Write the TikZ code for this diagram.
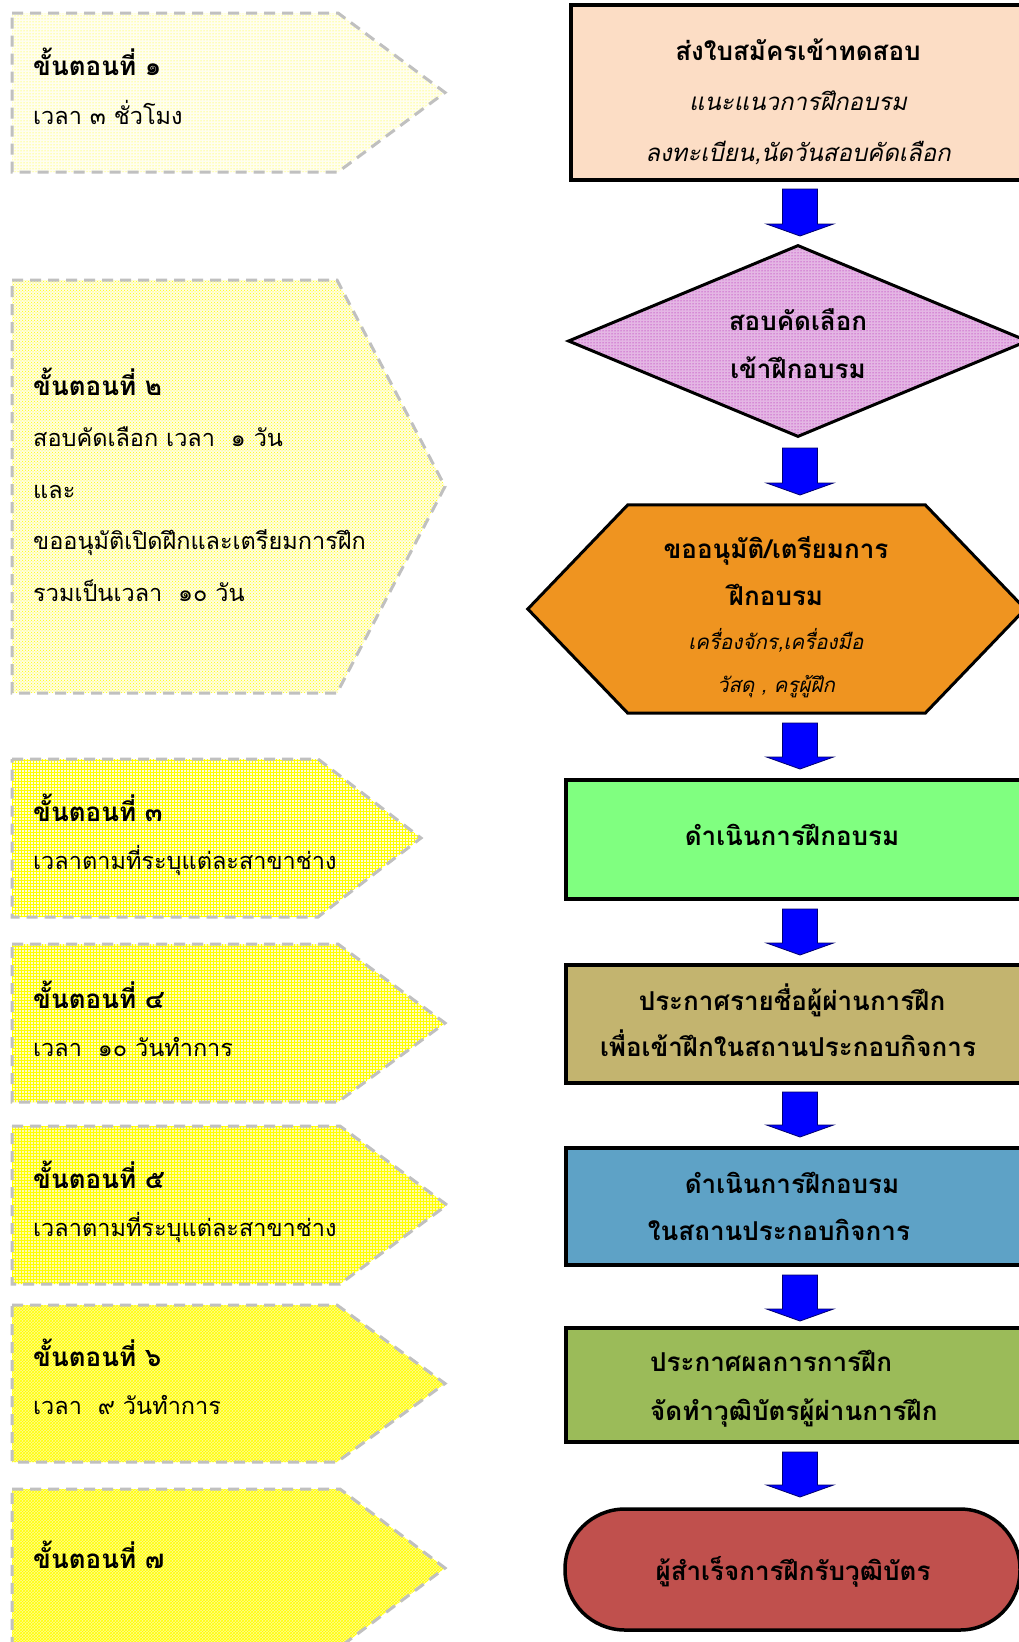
\documentclass[tikz,border=0pt]{standalone}
\usepackage{fontspec}
\newfontfamily\thai[Script=Thai]{Loma}
\usetikzlibrary{shapes.geometric,patterns,calc}
\definecolor{peach}{RGB}{252,221,197}
\definecolor{orng}{RGB}{239,148,32}
\definecolor{lgreen}{RGB}{128,255,128}
\definecolor{khaki}{RGB}{195,180,111}
\definecolor{sblue}{RGB}{94,162,198}
\definecolor{olive}{RGB}{155,187,89}
\definecolor{brick}{RGB}{192,80,77}
\definecolor{dashgray}{RGB}{192,192,192}
\definecolor{arrblue}{RGB}{0,0,255}
\definecolor{lilac}{RGB}{228,182,228}
\tikzset{
  pentline/.style={draw=dashgray, line width=3, dash pattern=on 11pt off 7pt},
  patA/.style={preaction={fill=yellow!6}, pattern=dots, pattern color=yellow},
  patB/.style={preaction={fill=yellow!12}, pattern=crosshatch dots, pattern color=yellow},
  patC/.style={preaction={fill=yellow!14}, pattern=grid, pattern color=yellow},
  patC2/.style={preaction={fill=yellow!22}, pattern=grid, pattern color=yellow},
  patD/.style={preaction={fill=yellow!32}, pattern=grid, pattern color=yellow},
  patE/.style={preaction={fill=yellow!42}, pattern=crosshatch, pattern color=yellow},
  boxshape/.style={rectangle, draw=black, line width=3.5, inner sep=0, minimum width=460, minimum height=#1},
  ltitle/.style={anchor=base west, inner sep=0, font=\thai\bfseries\fontsize{26}{30}\selectfont},
  ltext/.style={anchor=base west, inner sep=0, font=\thai\fontsize{23.5}{28}\selectfont},
  rbold/.style={anchor=base, inner sep=0, font=\thai\bfseries\fontsize{26}{30}\selectfont},
  rital/.style={anchor=base, inner sep=0, font=\thai\itshape\fontsize{24}{28}\selectfont},
  rsital/.style={anchor=base, inner sep=0, font=\thai\itshape\fontsize{20.5}{24}\selectfont},
  blockarrow/.style={draw={rgb,255:red,0;green,0;blue,110}, line width=0.8, fill=arrblue,
    to path={let \p1=(\tikztostart), \p2=(\tikztotarget) in
      (\x1-17.5pt,\y1) -- (\x1+17.5pt,\y1) -- (\x1+17.5pt,\y2+12pt) -- (\x1+33.5pt,\y2+12pt)
      -- (\x1,\y2) -- (\x1-33.5pt,\y2+12pt) -- (\x1-17.5pt,\y2+12pt) -- cycle}},
}
\newcommand\steppent[5]{%
  \path[#5] (12,#1) -- (#3,#1) -- (#4,{(#1+#2)/2}) -- (#3,#2) -- (12,#2) -- cycle;
  \path[pentline] (12,#1) -- (#3,#1) -- (#4,{(#1+#2)/2}) -- (#3,#2) -- (12,#2) -- cycle;}
\begin{document}
\begin{tikzpicture}[x=1pt,y=-1pt]
\useasboundingbox (0,0) rectangle (1019,1642);
\fill[white] (0,0) rectangle (1019,1642);
% left step pentagons
\steppent{13}{172}{338}{445}{patA}
\steppent{280}{693}{337}{445}{patB}
\steppent{759}{917}{318}{421}{patC}
\steppent{944}{1102}{338}{445}{patC2}
\steppent{1126}{1284}{340}{447}{patD}
\steppent{1305}{1462}{337}{445}{patE}
\steppent{1489}{1647}{340}{445}{patE}
% left texts
\node[ltitle] (s1) at (33,75) {ขั้นตอนที่ ๑};
\node[ltext] (s1a) at (33,124) {เวลา ๓ ชั่วโมง};
\node[ltitle] (s2) at (33,395) {ขั้นตอนที่ ๒};
\node[ltext] (s2a) at (33,446) {สอบคัดเลือก เวลา~ ๑ วัน};
\node[ltext] (s2b) at (33,498) {และ};
\node[ltext] (s2c) at (33,549) {ขออนุมัติเปิดฝึกและเตรียมการฝึก};
\node[ltext] (s2d) at (33,601) {รวมเป็นเวลา~ ๑๐ วัน};
\node[ltitle] (s3) at (33,821) {ขั้นตอนที่ ๓};
\node[ltext] (s3a) at (33,869) {เวลาตามที่ระบุแต่ละสาขาช่าง};
\node[ltitle] (s4) at (33,1008) {ขั้นตอนที่ ๔};
\node[ltext] (s4a) at (33,1056) {เวลา~ ๑๐ วันทำการ};
\node[ltitle] (s5) at (33,1188) {ขั้นตอนที่ ๕};
\node[ltext] (s5a) at (33,1236) {เวลาตามที่ระบุแต่ละสาขาช่าง};
\node[ltitle] (s6) at (33,1366) {ขั้นตอนที่ ๖};
\node[ltext] (s6a) at (33,1414) {เวลา~ ๙ วันทำการ};
\node[ltitle] (s7) at (33,1568) {ขั้นตอนที่ ๗};
% right flow shapes
\node[boxshape=175, fill=peach, minimum width=454] (b1) at (798,92.5) {};
\node[diamond, draw=black, line width=3, inner sep=0, minimum width=460, minimum height=192,
      preaction={fill=lilac}, pattern=dots, pattern color={rgb,255:red,170;green,0;blue,170}] (d2) at (798,341) {};
\node[rectangle, inner sep=0, minimum width=497, minimum height=208] (h3) at (776.5,609) {};
\draw[black, line width=3, fill=orng, line join=miter]
  (h3.west) -- ([xshift=100]h3.north west) -- ([xshift=-100]h3.north east) -- (h3.east)
  -- ([xshift=-100]h3.south east) -- ([xshift=100]h3.south west) -- cycle;
\node[boxshape=119, fill=lgreen] (b4) at (796,839.5) {};
\node[boxshape=118, fill=khaki] (b5) at (796,1024) {};
\node[boxshape=117, fill=sblue] (b6) at (796,1206.5) {};
\node[boxshape=114, fill=olive] (b7) at (796,1385) {};
\node[rectangle, rounded corners=60, draw=black, line width=3.5, fill=brick, inner sep=0,
      minimum width=455, minimum height=121] (t8) at (792.5,1569.5) {};
% right texts
\node[rbold] (b1t) at (798,60) {ส่งใบสมัครเข้าทดสอบ};
\node[rital] (b1u) at (798,110) {แนะแนวการฝึกอบรม};
\node[rital] (b1v) at (798,161) {ลงทะเบียน,นัดวันสอบคัดเลือก};
\node[rbold] (d2t) at (798,330) {สอบคัดเลือก};
\node[rbold] (d2u) at (798,378) {เข้าฝึกอบรม};
\node[rbold] (h3t) at (776,558) {ขออนุมัติ/เตรียมการ};
\node[rbold] (h3u) at (776,605) {ฝึกอบรม};
\node[rsital] (h3v) at (776,649) {เครื่องจักร,เครื่องมือ};
\node[rsital] (h3w) at (776,692) {วัสดุ , ครูผู้ฝึก};
\node[rbold] (b4t) at (792,845) {ดำเนินการฝึกอบรม};
\node[rbold] (b5t) at (792,1010) {ประกาศรายชื่อผู้ผ่านการฝึก};
\node[rbold] (b5u) at (788,1056) {เพื่อเข้าฝึกในสถานประกอบกิจการ};
\node[rbold] (b6t) at (792,1193) {ดำเนินการฝึกอบรม};
\node[rbold] (b6u) at (779,1240) {ในสถานประกอบกิจการ};
\node[rbold, anchor=base west] (b7t) at (650,1371) {ประกาศผลการการฝึก};
\node[rbold, anchor=base west] (b7u) at (650,1420) {จัดทำวุฒิบัตรผู้ผ่านการฝึก};
\node[rbold] (t8t) at (793,1580) {ผู้สำเร็จการฝึกรับวุฒิบัตร};
% block arrows
\coordinate (a1s) at (800,189);  \coordinate (a1e) at (800,236);
\coordinate (a2s) at (800,448);  \coordinate (a2e) at (800,495);
\coordinate (a3s) at (800,723);  \coordinate (a3e) at (800,769);
\coordinate (a4s) at (800,909);  \coordinate (a4e) at (800,955);
\coordinate (a5s) at (800,1092); \coordinate (a5e) at (800,1137);
\coordinate (a6s) at (800,1275); \coordinate (a6e) at (800,1321);
\coordinate (a7s) at (800,1452); \coordinate (a7e) at (800,1497);
\foreach \i in {1,...,7} { \draw[blockarrow] (a\i s) to (a\i e); }
\end{tikzpicture}
\end{document}
